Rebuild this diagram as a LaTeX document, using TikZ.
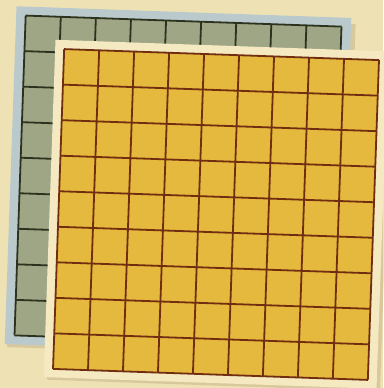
\documentclass[tikz,border=0pt]{standalone}
\usetikzlibrary{calc}
\definecolor{bgc}{RGB}{238,226,180}
\definecolor{backcell}{RGB}{158,166,134}
\definecolor{backline}{RGB}{45,50,30}
\definecolor{blueframe}{RGB}{186,201,203}
\definecolor{frontcell}{RGB}{229,185,62}
\definecolor{frontline}{RGB}{112,45,15}
\definecolor{creamframe}{RGB}{244,233,192}
\definecolor{shadowc}{RGB}{120,90,50}
\tikzset{
  backgrid/.style={draw=backline, line width=1.8pt},
  frontgrid/.style={draw=frontline, line width=1.8pt},
}
\begin{document}
\begin{tikzpicture}[x=1pt,y=-1pt]
\useasboundingbox (0,0) rectangle (383,388);
\fill[bgc] (0,0) rectangle (383,388);
% back board
\begin{scope}[shift={(178,181)}, rotate=-2]
  \fill[shadowc, opacity=0.18] (-165,-163) rectangle (172,172);
  \fill[blueframe] (-167.5,-169) rectangle (167.5,169);
  \fill[backcell] (-158,-160) rectangle (158,160);
  \foreach \i in {0,...,9} {
    \draw[backgrid] ({-158+\i*316/9},-160) -- ({-158+\i*316/9},160);
    \draw[backgrid] (-158,{-160+\i*320/9}) -- (158,{-160+\i*320/9});
  }
\end{scope}
% front board
\begin{scope}[shift={(216,214.5)}, rotate=-2]
  \fill[shadowc, opacity=0.18] (-163,-162) rectangle (170,171);
  \fill[creamframe] (-166.5,-169) rectangle (166.5,168.5);
  \fill[frontcell] (-157.5,-160) rectangle (157.5,160);
  \foreach \i in {0,...,9} {
    \draw[frontgrid] ({-157.5+\i*315/9},-160) -- ({-157.5+\i*315/9},160);
    \draw[frontgrid] (-157.5,{-160+\i*320/9}) -- (157.5,{-160+\i*320/9});
  }
\end{scope}
\end{tikzpicture}
\end{document}
